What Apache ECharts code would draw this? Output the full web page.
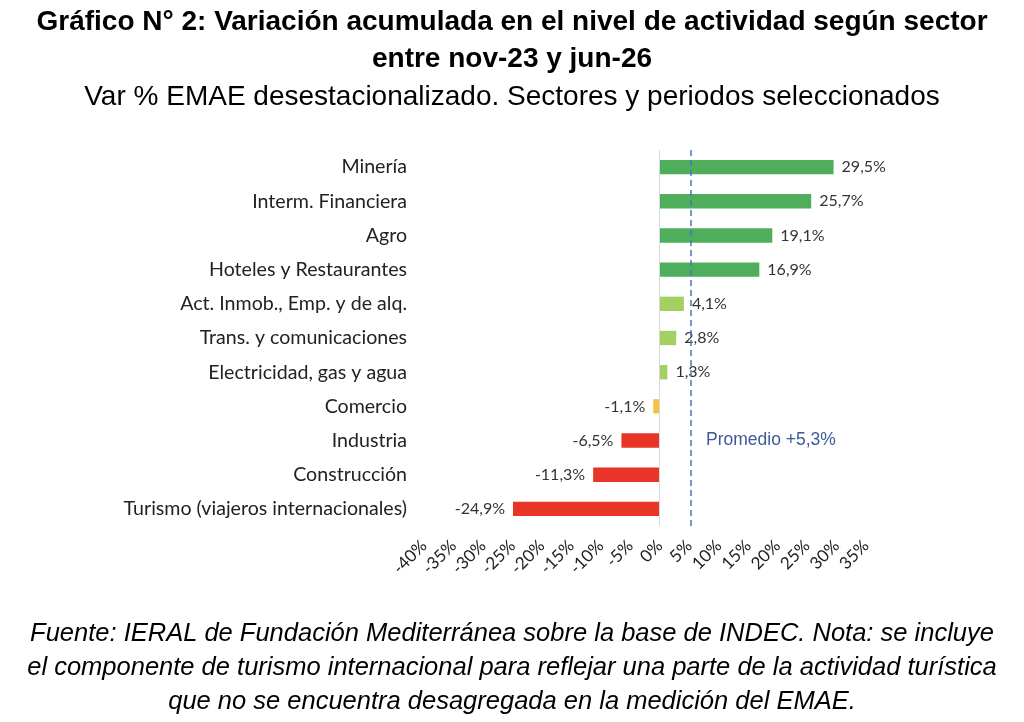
<!DOCTYPE html>
<html>
<head>
<meta charset="utf-8">
<title>Variación acumulada según sector</title>
<script src="https://cdn.jsdelivr.net/npm/echarts@6/dist/echarts.min.js"></script>
<style>
  body { margin:0; background:#fff; }
  #main { width:1024px; height:722px; }
</style>
</head>
<body>
<div id="main"></div>
<script>
// datos
var sectores = ["Minería", "Interm. Financiera", "Agro", "Hoteles y Restaurantes",
  "Act. Inmob., Emp. y de alq.", "Trans. y comunicaciones", "Electricidad, gas y agua",
  "Comercio", "Industria", "Construcción", "Turismo (viajeros internacionales)"];
var variacion = [29.5, 25.7, 19.1, 16.9, 4.1, 2.8, 1.3, -1.1, -6.5, -11.3, -24.9];
var grupo = ["alto", "alto", "alto", "alto", "medio", "medio", "medio", "bajo", "neg", "neg", "neg"];
var promedio = 5.3;
var ticks = [-40, 35, 5]; // min, max, intervalo

var colores = { alto:'#4FAE5C', medio:'#A3D063', bajo:'#F5C242', neg:'#E93527' };

function fmt(v){ return v.toFixed(1).replace('.', ',') + '%'; }

var notas = [
  'Fuente: IERAL de Fundación Mediterránea sobre la base de INDEC. Nota: se incluye',
  'el componente de turismo internacional para reflejar una parte de la actividad turística',
  'que no se encuentra desagregada en la medición del EMAE.'
];

var titulos = [{
    text: 'Gráfico N° 2: Variación acumulada en el nivel de actividad según sector',
    left: 'center', top: 3,
    textStyle: { fontFamily:'Liberation Sans', fontWeight:'bold', fontSize:28, color:'#000' }
  }, {
    text: 'entre nov-23 y jun-26',
    left: 'center', top: 40,
    textStyle: { fontFamily:'Liberation Sans', fontWeight:'bold', fontSize:28, color:'#000' }
  }, {
    text: 'Var % EMAE desestacionalizado. Sectores y periodos seleccionados',
    left: 'center', top: 78,
    textStyle: { fontFamily:'Liberation Sans', fontWeight:'normal', fontSize:28, color:'#000' }
}];
notas.forEach(function(t, i){
  titulos.push({
    text: t, left: 'center', top: 616 + i * 34,
    textStyle: { fontFamily:'Liberation Sans', fontStyle:'italic', fontWeight:'normal', fontSize:25.5, color:'#000' }
  });
});

var myChart = echarts.init(document.getElementById('main'));
var option = {
  animation: false,
  textStyle: { fontFamily: 'Lato' },
  title: titulos,
  grid: { left: 424, right: 158, top: 150, bottom: 196, containLabel: false },
  xAxis: {
    type: 'value', min: ticks[0], max: ticks[1], interval: ticks[2],
    axisLine: { show: false }, axisTick: { show: false }, splitLine: { show: false },
    axisLabel: {
      rotate: 45, margin: 17, fontSize: 17, color: '#222', fontFamily: 'Lato',
      formatter: function(v){ return v + '%'; }
    }
  },
  yAxis: {
    type: 'category', data: sectores, inverse: true,
    axisLine: { show: false, onZero: false }, axisTick: { show: false },
    axisLabel: { fontSize: 19.6, color: '#222', margin: 17, fontFamily: 'Lato' }
  },
  series: [{
    type: 'bar',
    barWidth: '42%',
    data: variacion.map(function(v, i){
      return { value: v, itemStyle: { color: colores[grupo[i]] },
               label: { position: v >= 0 ? 'right' : 'left' } };
    }),
    label: {
      show: true, fontSize: 16, color: '#333', distance: 8, fontFamily: 'Lato',
      formatter: function(p){ return fmt(p.value); }
    },
    markLine: {
      silent: true, symbol: 'none',
      label: { show: false },
      data: [
        { xAxis: 0, lineStyle: { color: '#d9d9d9', type: 'solid', width: 1 } },
        { xAxis: promedio, lineStyle: { color: '#4A76B8', type: [6, 4], width: 1.5 } }
      ]
    },
    markPoint: {
      silent: true, symbol: 'circle', symbolSize: 0,
      data: [{ coord: [promedio, 'Industria'] }],
      label: {
        show: true, position: 'right', distance: 15, fontSize: 17.5,
        fontFamily: 'Liberation Sans', color: '#3D5A98',
        formatter: 'Promedio +5,3%'
      }
    }
  }]
};
myChart.setOption(option);
</script>
</body>
</html>
